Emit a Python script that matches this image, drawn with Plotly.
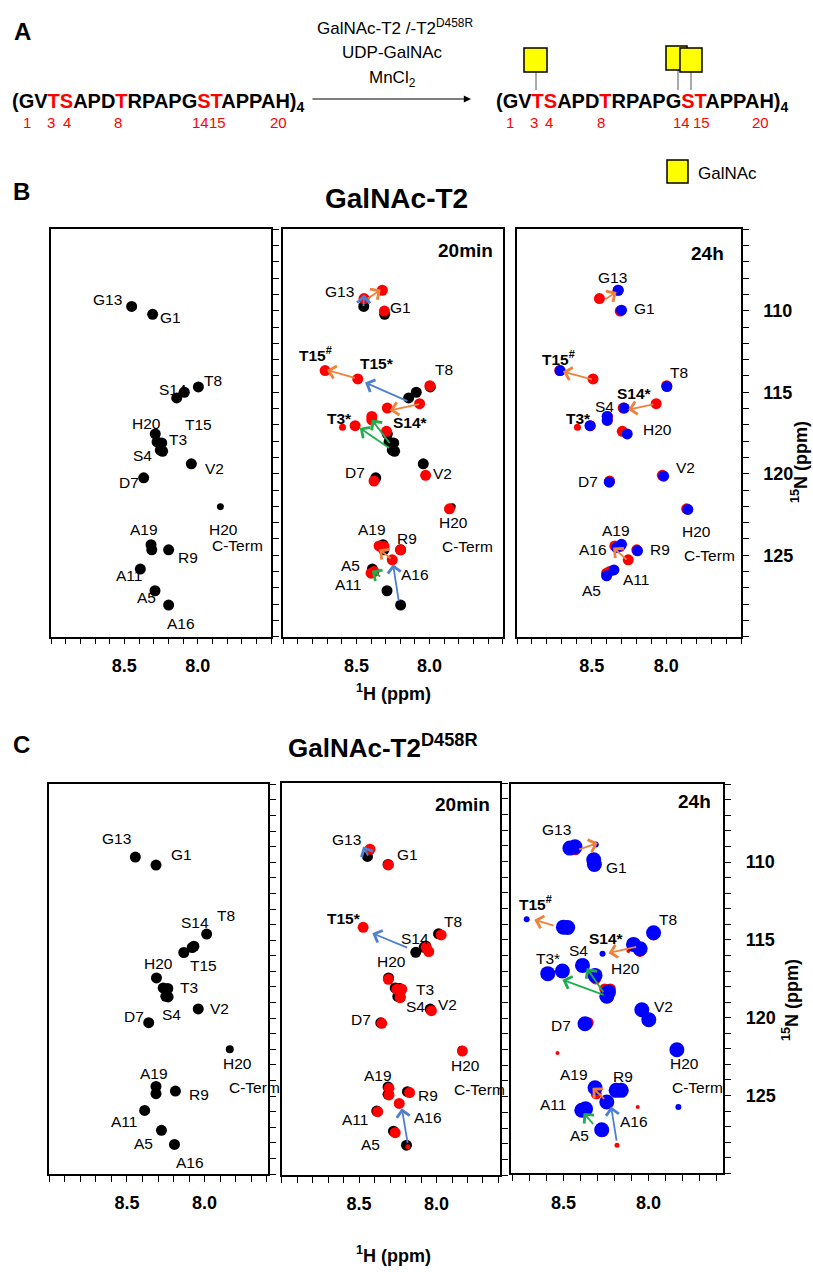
import plotly.graph_objects as go

FIG_W, FIG_H = 813, 1272
FONT = "Liberation Sans, Arial, sans-serif"

# ---------------- data (ppm) ----------------
# Panel B : GalNAc-T2 ; reference (black), 20 min (red), 24 h (blue)
ref_B_H = [8.450, 8.307, 7.995, 8.091, 8.143, 8.289, 8.277, 8.245, 8.239, 8.255, 8.043, 8.368,
           8.318, 8.313, 8.198, 8.391, 8.291, 8.198]
ref_B_N = [109.73, 110.22, 114.67, 115.00, 115.35, 117.56, 118.05, 118.11, 118.62, 118.55, 119.39, 120.25,
           124.35, 124.67, 124.67, 125.85, 127.18, 128.06]
ref_B_weak_H = [7.845]
ref_B_weak_N = [122.02]

t20_B_H = [8.448, 8.323, 8.309, 8.714, 8.491, 7.998, 8.068, 8.289, 8.509, 8.395, 8.395, 8.295,
           8.027, 8.380, 7.864, 8.345, 8.311, 8.198, 8.255, 8.380, 8.400]
t20_B_N = [109.25, 108.74, 110.02, 113.67, 114.18, 114.60, 115.70, 115.97, 117.05, 116.48, 116.70, 117.40,
           120.10, 120.45, 122.15, 124.43, 124.47, 124.67, 125.28, 126.00, 126.10]
t20_B_weak_H = [8.595]
t20_B_weak_N = [117.15]

t24_B_H = [8.322, 8.300, 8.711, 7.996, 8.282, 8.396, 8.396, 8.511, 8.262, 8.018, 8.382, 7.856,
           8.300, 8.333, 8.193, 8.351, 8.400]
t24_B_N = [108.74, 109.96, 113.67, 114.65, 115.97, 116.48, 116.73, 117.05, 117.56, 120.15, 120.52, 122.19,
           124.33, 124.53, 124.73, 125.90, 126.26]

# Panel C : GalNAc-T2 D458R
ref_C_H = [8.446, 8.313, 7.987, 8.069, 8.080, 8.134, 8.310, 8.267, 8.237, 8.235, 8.250, 8.041, 8.360,
           8.313, 8.313, 8.188, 8.386, 8.278, 8.194]
ref_C_N = [109.67, 110.18, 114.61, 115.39, 115.47, 115.79, 117.42, 118.06, 118.10, 118.64, 118.60, 119.41, 120.29,
           124.38, 124.85, 124.68, 125.92, 127.20, 128.10]
ref_C_weak_H = [7.838]
ref_C_weak_N = [122.00]

t20_C_H = [8.430, 8.311, 8.474, 7.970, 8.050, 8.067, 8.311, 8.257, 8.224, 8.235, 8.033, 8.354, 7.833,
           8.307, 8.307, 8.174, 8.241, 8.380, 8.267]
t20_C_N = [109.21, 110.21, 114.19, 114.68, 115.74, 115.47, 117.51, 118.15, 118.15, 118.68, 119.51, 120.32, 122.09,
           124.47, 124.89, 124.74, 125.43, 125.96, 127.30]
t20_C_weak_H = [8.185]
t20_C_weak_N = [128.19]

t24_C_H = [8.462, 8.432, 8.318, 8.322, 8.500, 8.475, 7.970, 8.049, 8.088, 8.388, 8.314, 8.592, 8.506,
           8.235, 8.245, 8.039, 7.998, 8.373, 7.833, 8.314, 8.190, 8.160, 8.245, 8.392, 8.370, 8.275]
t24_C_N = [109.10, 109.02, 110.15, 109.85, 114.18, 114.20, 114.54, 115.57, 115.29, 116.64, 117.28, 117.17, 117.00,
           118.35, 118.62, 119.49, 120.13, 120.39, 122.06, 124.50, 124.67, 124.67, 125.42, 125.95, 125.85, 127.20]
t24_C_weak_H = [8.310, 8.716, 8.270, 7.824]
t24_C_weak_N = [108.87, 113.68, 115.89, 125.74]
t24_C_red_weak_H = [8.118, 8.535, 8.063]
t24_C_red_weak_N = [115.72, 122.27, 125.74]

# peak labels: (text, 1H, 15N)
labels_B1 = [("G13", 8.618, 109.31), ("G1", 8.182, 110.41), ("T8", 7.898, 114.28), ("S14", 8.17, 114.85),
             ("H20", 8.352, 116.89), ("T15", 7.993, 116.99), ("T3", 8.136, 117.91), ("S4", 8.375, 118.88),
             ("V2", 7.886, 119.70), ("D7", 8.466, 120.56), ("H20", 7.825, 123.41), ("C-Term", 7.727, 124.43),
             ("A19", 8.364, 123.41), ("R9", 8.068, 125.14), ("A11", 8.466, 126.26), ("A5", 8.352, 127.59),
             ("A16", 8.114, 129.22)]
labels_B2 = [("G13", 8.618, 108.84), ("G1", 8.198, 109.80), ("<b>T15<sup>#</sup></b>", 8.777, 112.65),
             ("<b>T15*</b>", 8.357, 113.26), ("T8", 7.902, 113.63), ("<b>T3*</b>", 8.618, 116.58),
             ("<b>S14*</b>", 8.13, 116.85), ("D7", 8.511, 119.94), ("V2", 7.914, 120.00),
             ("H20", 7.834, 123.00), ("C-Term", 7.743, 124.47), ("A19", 8.391, 123.45), ("R9", 8.152, 123.98),
             ("A5", 8.543, 125.61), ("A16", 8.10, 126.16), ("A11", 8.561, 126.77)]
labels_B3 = [("G13", 8.36, 107.96), ("G1", 8.144, 109.86), ("<b>T15<sup>#</sup></b>", 8.722, 112.91),
             ("T8", 7.916, 113.79), ("<b>S14*</b>", 8.211, 115.05), ("S4", 8.411, 115.87),
             ("<b>T3*</b>", 8.589, 116.58), ("H20", 8.056, 117.30), ("D7", 8.527, 120.45), ("V2", 7.873, 119.60),
             ("H20", 7.80, 123.55), ("C-Term", 7.711, 125.04), ("A19", 8.338, 123.51), ("A16", 8.489, 124.63),
             ("R9", 8.04, 124.63), ("A11", 8.204, 126.47), ("A5", 8.50, 127.18)]
labels_C1 = [("G13", 8.569, 108.47), ("G1", 8.151, 109.48), ("S14", 8.065, 113.87), ("T8", 7.862, 113.39),
             ("H20", 8.295, 116.50), ("T15", 8.009, 116.60), ("T3", 8.101, 118.04), ("S4", 8.216, 119.75),
             ("V2", 7.907, 119.39), ("D7", 8.457, 119.92), ("H20", 7.789, 122.92), ("C-Term", 7.681, 124.42),
             ("A19", 8.323, 123.56), ("R9", 8.037, 124.89), ("A11", 8.522, 126.61), ("A5", 8.392, 128.06),
             ("A16", 8.091, 129.24)]
labels_C2 = [("G13", 8.583, 108.57), ("G1", 8.185, 109.57), ("<b>T15*</b>", 8.598, 113.62), ("T8", 7.893, 113.83),
             ("S14", 8.137, 114.89), ("H20", 8.293, 116.38), ("T3", 8.072, 118.19), ("S4", 8.137, 119.26),
             ("V2", 7.926, 119.09), ("D7", 8.489, 120.06), ("H20", 7.815, 123.04), ("C-Term", 7.724, 124.53),
             ("A19", 8.376, 123.62), ("R9", 8.057, 124.94), ("A11", 8.524, 126.45), ("A16", 8.057, 126.32),
             ("A5", 8.424, 128.04)]
labels_C3 = [("G13", 8.539, 107.92), ("G1", 8.186, 110.36), ("<b>T15<sup>#</sup></b>", 8.667, 112.63),
             ("T8", 7.888, 113.70), ("<b>S14*</b>", 8.245, 114.93), ("S4", 8.412, 115.67), ("T3*", 8.588, 116.21),
             ("H20", 8.137, 116.85), ("V2", 7.912, 119.27), ("D7", 8.514, 120.49), ("H20", 7.788, 122.95),
             ("C-Term", 7.71, 124.50), ("A19", 8.435, 123.64), ("R9", 8.147, 123.81), ("A11", 8.559, 125.57),
             ("A16", 8.088, 126.70), ("A5", 8.408, 127.56)]

# shift arrows: (tail 1H, tail 15N, head 1H, head 15N, colour key)
arrows_B2 = [(8.452, 109.80, 8.448, 109.00, "blue"), (8.432, 109.31, 8.334, 108.70, "orange"),
             (8.500, 114.14, 8.702, 113.63, "orange"), (8.141, 115.58, 8.441, 114.40, "blue"),
             (8.061, 115.71, 8.273, 116.11, "orange"), (8.266, 118.48, 8.477, 117.19, "green"),
             (8.266, 118.21, 8.395, 116.68, "green"), (8.255, 125.28, 8.345, 124.63, "orange"),
             (8.209, 127.89, 8.250, 125.55, "blue"), (8.327, 126.36, 8.395, 125.96, "green")]
arrows_B3 = [(8.418, 109.35, 8.333, 108.84, "orange"), (8.489, 114.24, 8.693, 113.73, "orange"),
             (8.078, 115.73, 8.256, 116.07, "orange"), (8.256, 125.35, 8.356, 124.53, "orange")]
arrows_C2 = [(8.437, 109.72, 8.474, 109.04, "blue"), (8.180, 115.53, 8.415, 114.57, "blue"),
             (8.185, 128.04, 8.224, 125.74, "blue")]
arrows_C3 = [(8.416, 109.21, 8.298, 108.78, "orange"), (8.549, 114.11, 8.671, 113.70, "orange"),
             (8.063, 115.42, 8.235, 115.85, "orange"), (8.255, 118.57, 8.506, 117.56, "green"),
             (8.259, 118.46, 8.363, 116.81, "green"), (8.251, 125.31, 8.329, 124.50, "orange"),
             (8.186, 127.99, 8.220, 125.70, "blue"), (8.318, 126.92, 8.382, 126.12, "green")]

x_tick_vals = [8.5, 8.0]
y_tick_vals = [110, 115, 120, 125]

seq_numbers = ["1", "3", "4", "8", "14", "15", "20"]

# ---------------- styling ----------------
ARROW_COL = {"orange": "#F0813A", "blue": "#4F7FD0", "green": "#1FAE4E"}
BLACK, RED, BLUE = "#000000", "#FF0000", "#0000FF"


def px(x):
    return x / FIG_W


def py(y):
    return 1 - y / FIG_H


fig = go.Figure()

# subplot geometry (pixels) and axis ranges
panels = {
    1: dict(dx=(51, 271), dy=(229.3, 636.7), xr=[9.0, 7.5], ylab=False, rt=True),
    2: dict(dx=(283.3, 502.7), dy=(229.3, 636.7), xr=[9.0, 7.5], ylab=False, rt=False),
    3: dict(dx=(517, 741), dy=(229.3, 636.7), xr=[9.0, 7.5], ylab=True, rt=True),
    4: dict(dx=(49.3, 268.3), dy=(784.3, 1174), xr=[9.0, 7.59], ylab=False, rt=True),
    5: dict(dx=(281.7, 500), dy=(783.3, 1175), xr=[9.0, 7.59], ylab=False, rt=True),
    6: dict(dx=(510.7, 723.3), dy=(784.3, 1173.3), xr=[8.81, 7.56], ylab=True, rt=True),
}

layout_axes = {}
for n, p in panels.items():
    sfx = "" if n == 1 else str(n)
    layout_axes["xaxis" + sfx] = dict(
        domain=[px(p["dx"][0]), px(p["dx"][1])], range=p["xr"], anchor="y" + sfx,
        showline=True, mirror=True, linecolor="black", linewidth=1.5,
        showgrid=False, zeroline=False, ticks="outside", ticklen=6, tickwidth=1, tickcolor="black",
        tickmode="array", tickvals=x_tick_vals, ticktext=["<b>%.1f</b>" % v for v in x_tick_vals],
        tickfont=dict(family=FONT, size=18, color="black"), ticklabelstandoff=6,
        minor=dict(tickmode="linear", tick0=9.0, dtick=0.1, ticks="outside", ticklen=6,
                   tickwidth=1, tickcolor="black", showgrid=False),
    )
    layout_axes["yaxis" + sfx] = dict(
        domain=[py(p["dy"][1]), py(p["dy"][0])], range=[130, 105], anchor="x" + sfx, side="right",
        showline=True, mirror=True, linecolor="black", linewidth=1.5,
        showgrid=False, zeroline=False, ticks="outside" if p["rt"] else "", ticklen=6, tickwidth=1,
        tickcolor="black", tickmode="array", tickvals=y_tick_vals,
        ticktext=["<b>%d</b>" % v for v in y_tick_vals], showticklabels=p["ylab"],
        tickfont=dict(family=FONT, size=18, color="black"), ticklabelstandoff=11,
        minor=dict(tickmode="linear", tick0=105, dtick=1, ticks="outside" if p["rt"] else "",
                   ticklen=6, tickwidth=1, tickcolor="black", showgrid=False),
    )


def add_peaks(n, H, N, color, size):
    sfx = "" if n == 1 else str(n)
    fig.add_trace(go.Scatter(x=H, y=N, xaxis="x" + sfx, yaxis="y" + sfx, mode="markers",
                             marker=dict(color=color, size=size, line=dict(width=0)),
                             showlegend=False, hoverinfo="skip", cliponaxis=True))


# B1
add_peaks(1, ref_B_H, ref_B_N, BLACK, 11)
add_peaks(1, ref_B_weak_H, ref_B_weak_N, BLACK, 7)
# B2
add_peaks(2, ref_B_H, ref_B_N, BLACK, 11)
add_peaks(2, ref_B_weak_H, ref_B_weak_N, BLACK, 7)
add_peaks(2, t20_B_H, t20_B_N, RED, 11)
add_peaks(2, t20_B_weak_H, t20_B_weak_N, RED, 7)
# B3
add_peaks(3, t20_B_H, t20_B_N, RED, 11)
add_peaks(3, t20_B_weak_H, t20_B_weak_N, RED, 7)
add_peaks(3, t24_B_H, t24_B_N, BLUE, 11)
# C1
add_peaks(4, ref_C_H, ref_C_N, BLACK, 11)
add_peaks(4, ref_C_weak_H, ref_C_weak_N, BLACK, 8)
# C2
add_peaks(5, ref_C_H, ref_C_N, BLACK, 11)
add_peaks(5, ref_C_weak_H, ref_C_weak_N, BLACK, 8)
add_peaks(5, t20_C_H, t20_C_N, RED, 11)
add_peaks(5, t20_C_weak_H, t20_C_weak_N, RED, 5)
# C3
add_peaks(6, t20_C_H, t20_C_N, RED, 11)
add_peaks(6, t20_C_weak_H, t20_C_weak_N, RED, 5)
add_peaks(6, t24_C_red_weak_H, t24_C_red_weak_N, RED, 4)
add_peaks(6, t24_C_H, t24_C_N, BLUE, 15)
add_peaks(6, t24_C_weak_H, t24_C_weak_N, BLUE, 6)

annotations = []


def add_labels(n, labels):
    sfx = "" if n == 1 else str(n)
    for text, h, nn in labels:
        annotations.append(dict(x=h, y=nn, xref="x" + sfx, yref="y" + sfx, text=text, showarrow=False,
                                xanchor="center", yanchor="middle",
                                font=dict(family=FONT, size=15.5, color="black")))


def add_arrows(n, arrows):
    sfx = "" if n == 1 else str(n)
    for th, tn, hh, hn, c in arrows:
        annotations.append(dict(x=hh, y=hn, ax=th, ay=tn, xref="x" + sfx, yref="y" + sfx,
                                axref="x" + sfx, ayref="y" + sfx, text="", showarrow=True,
                                arrowhead=4, arrowsize=1.4, arrowwidth=1.8, arrowcolor=ARROW_COL[c]))


add_labels(1, labels_B1)
add_labels(2, labels_B2)
add_labels(3, labels_B3)
add_labels(4, labels_C1)
add_labels(5, labels_C2)
add_labels(6, labels_C3)
add_arrows(2, arrows_B2)
add_arrows(3, arrows_B3)
add_arrows(5, arrows_C2)
add_arrows(6, arrows_C3)


def ptext(text, x, y, size, xanchor="center", yanchor="middle", color="black", angle=0):
    annotations.append(dict(x=px(x), y=py(y), xref="paper", yref="paper", text=text, showarrow=False,
                            xanchor=xanchor, yanchor=yanchor, textangle=angle,
                            font=dict(family=FONT, size=size, color=color)))


# panel letters and titles
ptext("<b>A</b>", 22, 31, 24)
ptext("<b>B</b>", 21, 192, 24)
ptext("<b>C</b>", 21, 744, 24)
ptext("<b>GalNAc-T2</b>", 396, 198, 28)
ptext("<b>GalNAc-T2<sup>D458R</sup></b>", 383, 746, 26)
ptext("<b>20min</b>", 465, 250, 19)
ptext("<b>24h</b>", 707, 253, 19)
ptext("<b>20min</b>", 463, 804, 19)
ptext("<b>24h</b>", 694, 801, 19)
ptext("<b><sup>1</sup>H (ppm)</b>", 393, 692, 18)
ptext("<b><sup>1</sup>H (ppm)</b>", 393, 1254, 18)
ptext("<b><sup>15</sup>N (ppm)</b>", 800, 462, 18, angle=-90)
ptext("<b><sup>15</sup>N (ppm)</b>", 790, 1000, 18, angle=-90)

# panel A : reaction scheme
ptext("GalNAc-T2 /-T2<sup>D458R</sup>", 395, 27, 17)
ptext("UDP-GalNAc", 392, 53, 17)
ptext("MnCl<sub>2</sub>", 392, 79, 17)
annotations.append(dict(x=px(471), y=py(99), ax=-(471 - 311), ay=0, xref="paper", yref="paper",
                        axref="pixel", ayref="pixel", text="", showarrow=True,
                        arrowhead=2, arrowsize=1.2, arrowwidth=1.2, arrowcolor="black"))
seq = ('<b>(GV<span style="color:#FF0000">TS</span>APD<span style="color:#FF0000">T</span>RPAPG'
       '<span style="color:#FF0000">ST</span>APPAH)<sub>4</sub></b>')
ptext(seq, 10, 102, 20, xanchor="left")
ptext(seq, 494, 102, 20, xanchor="left")
left_num_x = [27, 51, 67, 118, 200, 218, 278]
right_num_x = [510, 534, 549, 601, 681, 701, 760]
for t, xx in zip(seq_numbers, left_num_x):
    ptext(t, xx, 122, 15, color="#FF0000")
for t, xx in zip(seq_numbers, right_num_x):
    ptext(t, xx, 122, 15, color="#FF0000")
ptext("GalNAc", 696, 173, 17, xanchor="left")

shapes = []


def rect(x0, y0, x1, y1):
    shapes.append(dict(type="rect", xref="paper", yref="paper", x0=px(x0), x1=px(x1), y0=py(y1), y1=py(y0),
                       fillcolor="#FFFF00", line=dict(color="black", width=1.5)))


def vline(x, y0, y1):
    shapes.append(dict(type="line", xref="paper", yref="paper", x0=px(x), x1=px(x), y0=py(y0), y1=py(y1),
                       line=dict(color="#555555", width=1)))


vline(536, 72, 90)
vline(678, 70, 90)
vline(691, 72, 90)
rect(524, 48, 547, 72)
rect(666, 46, 687, 70)
rect(680, 48, 702, 72)
rect(667, 160, 688, 183)

fig.update_layout(
    width=FIG_W, height=FIG_H, margin=dict(l=0, r=0, t=0, b=0),
    paper_bgcolor="white", plot_bgcolor="white", showlegend=False,
    font=dict(family=FONT, color="black"),
    annotations=annotations, shapes=shapes, **layout_axes,
)

# remove the browser's default 8px page margin so the 813x1272 figure fills the window exactly
fig.write_html("out.html", config={"displayModeBar": False},
               post_script="document.body.style.margin='0';document.body.style.overflow='hidden';")
